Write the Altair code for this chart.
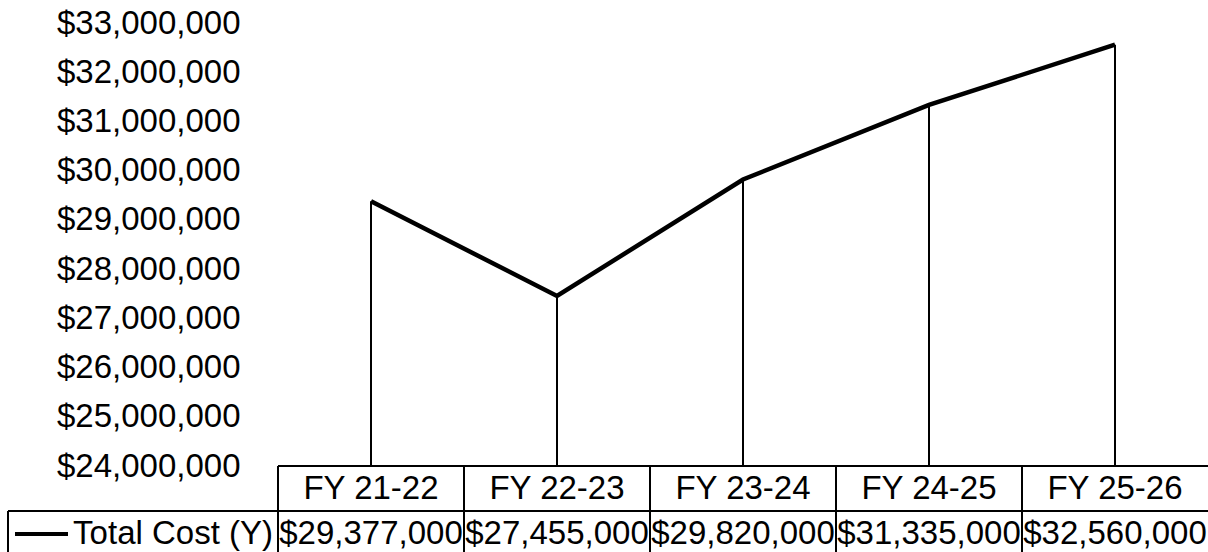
import altair as alt
import pandas as pd

categories = ["FY 21-22", "FY 22-23", "FY 23-24", "FY 24-25", "FY 25-26"]
values = [29377000, 27455000, 29820000, 31335000, 32560000]
y_ticks = [24000000, 25000000, 26000000, 27000000, 28000000,
           29000000, 30000000, 31000000, 32000000, 33000000]
series_name = "Total Cost (Y)"

W, H = 930, 443
FONT = "Liberation Sans"
FS = 33

df = pd.DataFrame({"cat": categories, "value": values})
one = pd.DataFrame({"label": [series_name]})

x_center = alt.X("cat:N", sort=categories, bandPosition=0.5,
                 scale=alt.Scale(type="band", paddingInner=0, paddingOuter=0), axis=None)
x_start = alt.X("cat:N", sort=categories, bandPosition=0,
                scale=alt.Scale(type="band", paddingInner=0, paddingOuter=0), axis=None)
y_enc = alt.Y("value:Q", scale=alt.Scale(domain=[24000000, 33000000], nice=False, zero=False),
              axis=alt.Axis(values=y_ticks, format="$,.0f", title=None, domain=False,
                            ticks=False, tickSize=0, grid=False, labelPadding=38,
                            labelLimit=0,
                            labelFont=FONT, labelFontSize=FS, labelColor="black"))

base = alt.Chart(df)

drops = base.mark_rule(color="black", strokeWidth=2).encode(
    x=x_center, y=y_enc, y2=alt.datum(24000000))
line = base.mark_line(color="black", strokeWidth=4.5).encode(x=x_center, y=y_enc)

top_line = alt.Chart(one).mark_rule(color="black", strokeWidth=2).encode(
    x=alt.value(0), x2=alt.value(W), y=alt.value(H))
mid_line = alt.Chart(one).mark_rule(color="black", strokeWidth=2).encode(
    x=alt.value(-270), x2=alt.value(W), y=alt.value(H + 45))
vlines = base.mark_rule(color="black", strokeWidth=2).encode(
    x=x_start, y=alt.value(H), y2=alt.value(H + 100))
left_border = alt.Chart(one).mark_rule(color="black", strokeWidth=2).encode(
    x=alt.value(-270), y=alt.value(H + 45), y2=alt.value(H + 100))

cat_text = base.mark_text(font=FONT, fontSize=FS, color="black", baseline="middle").encode(
    x=x_center, y=alt.value(H + 23), text="cat:N")
val_text = base.mark_text(font=FONT, fontSize=FS, color="black", baseline="middle").encode(
    x=x_center, y=alt.value(H + 68), text=alt.Text("value:Q", format="$,.0f"))

swatch = alt.Chart(one).mark_rule(color="black", strokeWidth=4).encode(
    x=alt.value(-263), x2=alt.value(-210), y=alt.value(H + 68))
legend_text = alt.Chart(one).mark_text(font=FONT, fontSize=FS, color="black",
                                       baseline="middle", align="right").encode(
    x=alt.value(-5), y=alt.value(H + 68), text="label:N")

chart = alt.layer(drops, line, top_line, mid_line, vlines, left_border,
                  cat_text, val_text, swatch, legend_text).properties(
    width=W, height=H,
    background="white",
    autosize=alt.AutoSizeParams(type="none"),
    padding={"left": 278, "top": 23, "right": 0, "bottom": 86},
).configure_view(stroke=None)

chart.save("out.html", embed_options={"renderer": "svg", "actions": False})
